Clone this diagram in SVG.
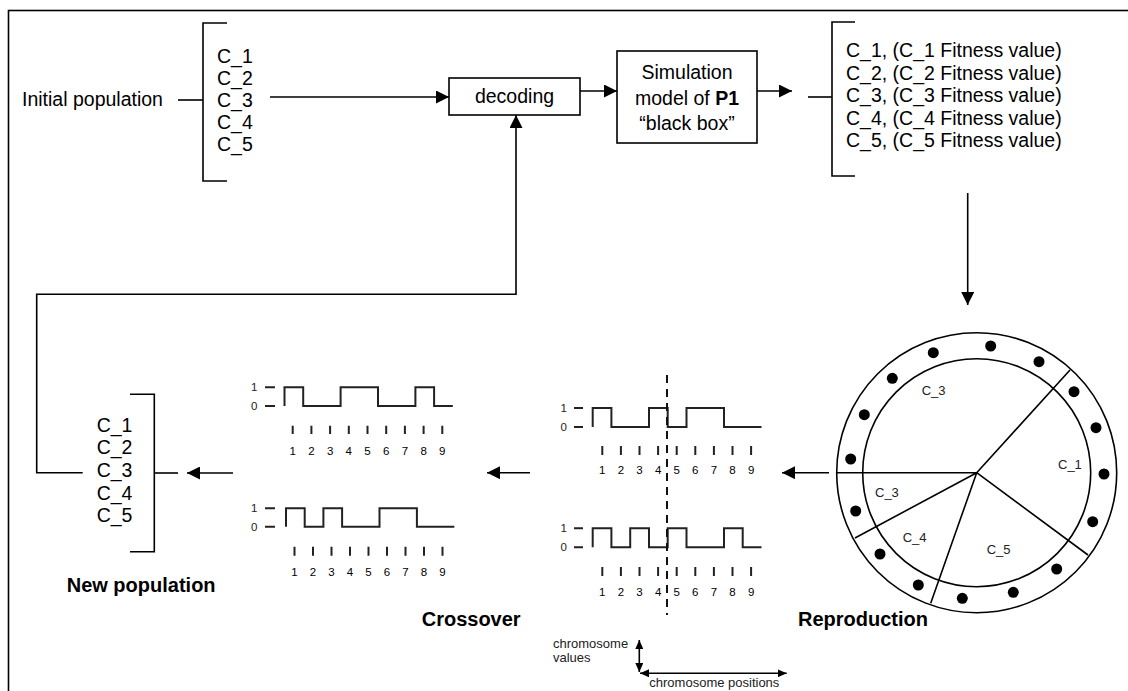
<svg xmlns="http://www.w3.org/2000/svg" width="1128" height="691" viewBox="0 0 1128 691">
<style>
text{font-family:"Liberation Sans",Arial,sans-serif;fill:#000}
.t{font-size:19.5px}
.b{font-size:20px;font-weight:bold}
.s{font-size:13px;fill:#222}
.d{font-size:11.5px;fill:#222}
.ln{fill:none;stroke:#000;stroke-width:1.6}
.w{fill:none;stroke:#222;stroke-width:2}
.tk{stroke:#222;stroke-width:2}
.dot{fill:#000}
</style>
<defs>
<marker id="ah" markerUnits="userSpaceOnUse" markerWidth="13" markerHeight="13" refX="13" refY="6.5" orient="auto">
<path d="M0,0 L13,6.5 L0,13 z" fill="#000"/>
</marker>
<marker id="sa" markerUnits="userSpaceOnUse" markerWidth="9" markerHeight="8" refX="9" refY="4" orient="auto-start-reverse">
<path d="M0,0 L9,4 L0,8 z" fill="#000"/>
</marker>
</defs>
<rect x="8.5" y="10.5" width="1130" height="700" fill="#fff" stroke="#000" stroke-width="1.6"/>

<g id="initial-population">
<text class="t" x="22" y="106">Initial population</text>
<path class="ln" d="M227,23 H203 V181 H227"/>
<text class="t" x="217" y="62.5">C_1</text>
<text class="t" x="217" y="84.7">C_2</text>
<text class="t" x="217" y="106.9">C_3</text>
<text class="t" x="217" y="129.1">C_4</text>
<text class="t" x="217" y="151.3">C_5</text>
</g>

<g id="decoding">
<rect class="ln" x="449" y="78" width="131" height="37" fill="#fff"/>
<text class="t" x="514.5" y="103" text-anchor="middle">decoding</text>
</g>

<g id="simulation">
<rect class="ln" x="617" y="51" width="140" height="92" fill="#fff"/>
<text class="t" x="687" y="79" text-anchor="middle">Simulation</text>
<text class="t" x="687" y="105" text-anchor="middle">model of <tspan font-weight="bold">P1</tspan></text>
<text class="t" x="687" y="130" text-anchor="middle">“black box”</text>
</g>

<g id="fitness-list">
<path class="ln" d="M855,22 H832 V176 H855"/>
<text class="t" x="846" y="57">C_1, (C_1 Fitness value)</text>
<text class="t" x="846" y="79.5">C_2, (C_2 Fitness value)</text>
<text class="t" x="846" y="102">C_3, (C_3 Fitness value)</text>
<text class="t" x="846" y="124.5">C_4, (C_4 Fitness value)</text>
<text class="t" x="846" y="147">C_5, (C_5 Fitness value)</text>
</g>

<g id="reproduction-wheel">
<circle class="ln" cx="976.7" cy="472.7" r="140"/>
<circle class="ln" cx="976.7" cy="472.7" r="114"/>
<path class="ln" d="M836.7,472.7 H976.7 L1070,370 M976.7,472.7 L1088,555 M976.7,472.7 L855,538 M976.7,472.7 L930.7,603.3"/>
<g class="dot">
<circle cx="933.3" cy="352.7" r="5.5"/>
<circle cx="990.7" cy="346" r="5.5"/>
<circle cx="1039" cy="361.7" r="5.5"/>
<circle cx="892.3" cy="378.3" r="5.5"/>
<circle cx="1074" cy="391.7" r="5.5"/>
<circle cx="864.3" cy="414.7" r="5.5"/>
<circle cx="1096" cy="427.7" r="5.5"/>
<circle cx="850.7" cy="459" r="5.5"/>
<circle cx="1104" cy="474" r="5.5"/>
<circle cx="855.7" cy="511" r="5.5"/>
<circle cx="1092.7" cy="521.7" r="5.5"/>
<circle cx="880" cy="554" r="5.5"/>
<circle cx="1056.7" cy="569" r="5.5"/>
<circle cx="918.3" cy="585" r="5.5"/>
<circle cx="1013.3" cy="592.3" r="5.5"/>
<circle cx="962.3" cy="598.3" r="5.5"/>
</g>
<text class="s" x="921.7" y="394.5">C_3</text>
<text class="s" x="1058" y="469">C_1</text>
<text class="s" x="875" y="496.5">C_3</text>
<text class="s" x="902.7" y="542">C_4</text>
<text class="s" x="986.7" y="553.5">C_5</text>
<text class="b" x="928" y="626" text-anchor="end">Reproduction</text>
</g>

<g id="parents">
<text class="d" x="567" y="411.5" text-anchor="end">1</text>
<text class="d" x="567" y="430.5" text-anchor="end">0</text>
<path class="tk" d="M574,408 H583 M574,427 H583"/>
<path class="w" d="M592.7,427 V408 H611.4 V427 H649 V408 H667.7 V427 H686.5 V408 H724 V427 H761.5"/>
<path class="tk" d="M602.3,446 V455 M620.9,446 V455 M639.5,446 V455 M658.1,446 V455 M676.7,446 V455 M695.3,446 V455 M713.9,446 V455 M732.5,446 V455 M751.1,446 V455"/>
<g class="d" text-anchor="middle">
<text x="602.3" y="474">1</text><text x="620.9" y="474">2</text><text x="639.5" y="474">3</text><text x="658.1" y="474">4</text><text x="676.7" y="474">5</text><text x="695.3" y="474">6</text><text x="713.9" y="474">7</text><text x="732.5" y="474">8</text><text x="751.1" y="474">9</text>
</g>
<text class="d" x="567" y="532.3" text-anchor="end">1</text>
<text class="d" x="567" y="551.3" text-anchor="end">0</text>
<path class="tk" d="M574,528.3 H583 M574,547.3 H583"/>
<path class="w" d="M592.7,547.3 V528.3 H611.4 V547.3 H630.2 V528.3 H649 V547.3 H667.7 V528.3 H686.5 V547.3 H724 V528.3 H742.7 V547.3 H761.5"/>
<path class="tk" d="M602.3,567 V576 M620.9,567 V576 M639.5,567 V576 M658.1,567 V576 M676.7,567 V576 M695.3,567 V576 M713.9,567 V576 M732.5,567 V576 M751.1,567 V576"/>
<g class="d" text-anchor="middle">
<text x="602.3" y="596">1</text><text x="620.9" y="596">2</text><text x="639.5" y="596">3</text><text x="658.1" y="596">4</text><text x="676.7" y="596">5</text><text x="695.3" y="596">6</text><text x="713.9" y="596">7</text><text x="732.5" y="596">8</text><text x="751.1" y="596">9</text>
</g>
<line x1="667" y1="375" x2="667" y2="615" stroke="#111" stroke-width="2" stroke-dasharray="8 6"/>
</g>

<g id="offspring">
<text class="d" x="257.5" y="391.3" text-anchor="end">1</text>
<text class="d" x="257.5" y="410" text-anchor="end">0</text>
<path class="tk" d="M265,387.3 H275 M265,406 H275"/>
<path class="w" d="M284.5,406 V387.3 H303.2 V406 H340.6 V387.3 H378 V406 H415.4 V387.3 H434.1 V406 H452.8"/>
<path class="tk" d="M292.7,425.7 V434 M311.4,425.7 V434 M330.1,425.7 V434 M348.8,425.7 V434 M367.5,425.7 V434 M386.2,425.7 V434 M404.9,425.7 V434 M423.6,425.7 V434 M442.3,425.7 V434"/>
<g class="d" text-anchor="middle">
<text x="292.7" y="455">1</text><text x="311.4" y="455">2</text><text x="330.1" y="455">3</text><text x="348.8" y="455">4</text><text x="367.5" y="455">5</text><text x="386.2" y="455">6</text><text x="404.9" y="455">7</text><text x="423.6" y="455">8</text><text x="442.3" y="455">9</text>
</g>
<text class="d" x="257.5" y="512.3" text-anchor="end">1</text>
<text class="d" x="257.5" y="530.7" text-anchor="end">0</text>
<path class="tk" d="M265,508.3 H275 M265,526.7 H275"/>
<path class="w" d="M286,526.7 V508.3 H304.7 V526.7 H323.4 V508.3 H342.1 V526.7 H379.5 V508.3 H416.9 V526.7 H454.3"/>
<path class="tk" d="M294.5,546.7 V555.7 M313,546.7 V555.7 M331.5,546.7 V555.7 M350,546.7 V555.7 M368.5,546.7 V555.7 M387,546.7 V555.7 M405.5,546.7 V555.7 M424,546.7 V555.7 M442.5,546.7 V555.7"/>
<g class="d" text-anchor="middle">
<text x="294.5" y="576">1</text><text x="313" y="576">2</text><text x="331.5" y="576">3</text><text x="350" y="576">4</text><text x="368.5" y="576">5</text><text x="387" y="576">6</text><text x="405.5" y="576">7</text><text x="424" y="576">8</text><text x="442.5" y="576">9</text>
</g>
<text class="b" x="421.7" y="626">Crossover</text>
</g>

<g id="new-population">
<path class="ln" d="M130,394.3 H154.3 V551.7 H130"/>
<text class="t" x="96.7" y="431.7">C_1</text>
<text class="t" x="96.7" y="454.3">C_2</text>
<text class="t" x="96.7" y="477">C_3</text>
<text class="t" x="96.7" y="499.7">C_4</text>
<text class="t" x="96.7" y="522.3">C_5</text>
<text class="b" x="66.7" y="591.7">New population</text>
</g>

<g id="axes-legend">
<line class="ln" x1="639.3" y1="640" x2="639.3" y2="672" marker-start="url(#sa)" marker-end="url(#sa)"/>
<line class="ln" x1="640" y1="673.3" x2="786.7" y2="673.3" marker-start="url(#sa)" marker-end="url(#sa)"/>
<text class="s" x="553" y="648">chromosome</text>
<text class="s" x="553" y="662">values</text>
<text class="s" x="649.3" y="687">chromosome positions</text>
</g>

<g id="connectors">
<line class="ln" x1="178" y1="100" x2="203" y2="100"/>
<line class="ln" x1="270" y1="97" x2="449" y2="97" marker-end="url(#ah)"/>
<line class="ln" x1="580" y1="91" x2="617" y2="91" marker-end="url(#ah)"/>
<line class="ln" x1="757" y1="91" x2="792" y2="91" marker-end="url(#ah)"/>
<line class="ln" x1="808" y1="97" x2="832" y2="97"/>
<line class="ln" x1="967.7" y1="193" x2="967.7" y2="305" marker-end="url(#ah)"/>
<line class="ln" x1="829" y1="472.7" x2="782" y2="472.7" marker-end="url(#ah)"/>
<line class="ln" x1="530" y1="472.7" x2="487" y2="472.7" marker-end="url(#ah)"/>
<line class="ln" x1="233" y1="473" x2="187" y2="473" marker-end="url(#ah)"/>
<line class="ln" x1="154.3" y1="473" x2="178" y2="473"/>
<path class="ln" d="M82.7,472.7 H36.7 V294.3 H516 V115" marker-end="url(#ah)"/>
</g>
</svg>
